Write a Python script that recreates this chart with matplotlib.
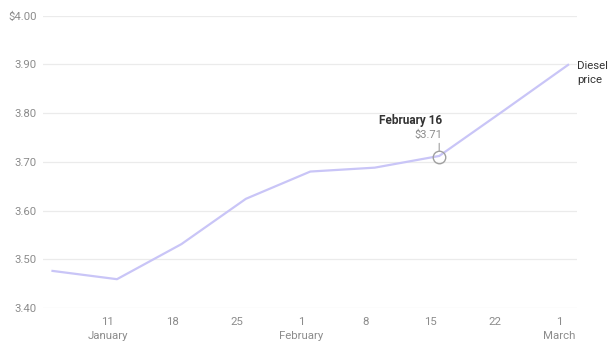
import datetime as dt
import matplotlib
matplotlib.use("Agg")
import matplotlib.pyplot as plt

plt.rcParams['font.family'] = ['Roboto', 'DejaVu Sans']

dates = [dt.date(2026, 1, 5), dt.date(2026, 1, 12), dt.date(2026, 1, 19), dt.date(2026, 1, 26),
         dt.date(2026, 2, 2), dt.date(2026, 2, 9), dt.date(2026, 2, 16), dt.date(2026, 2, 23),
         dt.date(2026, 3, 2)]
prices = [3.476, 3.459, 3.531, 3.624, 3.680, 3.688, 3.712, 3.805, 3.899]

y_ticks = [3.40, 3.50, 3.60, 3.70, 3.80, 3.90, 4.00]
y_labels = ["3.40", "3.50", "3.60", "3.70", "3.80", "3.90", "$4.00"]
x_ticks = [dt.date(2026, 1, 11), dt.date(2026, 1, 18), dt.date(2026, 1, 25), dt.date(2026, 2, 1),
           dt.date(2026, 2, 8), dt.date(2026, 2, 15), dt.date(2026, 2, 22), dt.date(2026, 3, 1)]
x_labels = ["11\nJanuary", "18", "25", "1\nFebruary", "8", "15", "22", "1\nMarch"]

highlight_date = dt.date(2026, 2, 16)
highlight_value = 3.71
highlight_title = "February 16"
highlight_label = "$3.71"
series_label = "Diesel\nprice"

fig = plt.figure(figsize=(6.10, 3.41), dpi=100)
ax = fig.add_axes([0.071, 0.097, 0.8754, 0.857])

ax.plot(dates, prices, color="#c9c5f7", linewidth=1.6, solid_joinstyle="round", zorder=3)

ax.set_xlim(dt.date(2026, 1, 4), dt.date(2026, 3, 3))
ax.set_ylim(3.40, 4.00)
ax.set_yticks(y_ticks)
ax.set_yticklabels(y_labels)
ax.set_xticks(x_ticks)
ax.set_xticklabels(x_labels, linespacing=1.45)

for s in ax.spines.values():
    s.set_visible(False)
ax.grid(axis="y", color="#ebebeb", linewidth=0.9)
ax.grid(axis="x", visible=False)
ax.tick_params(axis="both", length=0, labelsize=8.2)
ax.tick_params(axis="y", pad=4.5)
ax.tick_params(axis="x", pad=6.5)
for lbl in ax.get_xticklabels() + ax.get_yticklabels():
    lbl.set_color("#8c8c8c")

# highlighted point
ax.plot([highlight_date], [highlight_value], marker="o", markersize=9, markerfacecolor="none",
        markeredgecolor="#a0a0a0", markeredgewidth=1.0, zorder=4)
ax.annotate("", xy=(highlight_date, highlight_value), xytext=(0, 9.8), textcoords="offset points",
            arrowprops=dict(arrowstyle="-", color="#a0a0a0", linewidth=0.8, shrinkA=0, shrinkB=4.6))
ax.annotate(highlight_label, xy=(highlight_date, highlight_value), xytext=(2.2, 12.3),
            textcoords="offset points", ha="right", va="bottom", fontsize=8, color="#8c8c8c")
ax.annotate(highlight_title, xy=(highlight_date, highlight_value), xytext=(2.2, 21.8),
            textcoords="offset points", ha="right", va="bottom", fontsize=8.5, color="#333333",
            fontweight="bold")

ax.annotate(series_label, xy=(dates[-1], prices[-1]), xytext=(6.5, 3.0), textcoords="offset points",
            ha="left", va="top", fontsize=8.2, color="#333333", linespacing=1.5,
            annotation_clip=False)

fig.savefig("out.png", dpi=100)
